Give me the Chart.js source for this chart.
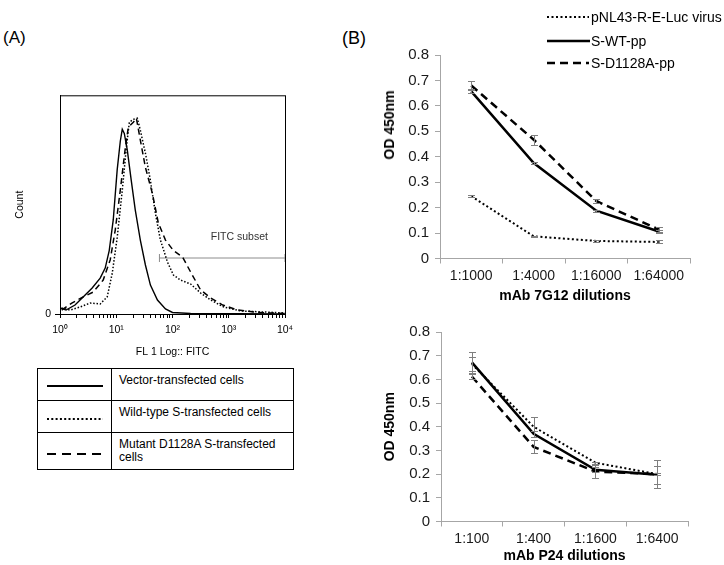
<!DOCTYPE html>
<html>
<head>
<meta charset="utf-8">
<script src="https://cdn.jsdelivr.net/npm/chart.js@4.4.1/dist/chart.umd.min.js"></script>
<style>
  body { margin: 0; background: #fff; }
  #fig { position: relative; width: 724px; height: 565px; overflow: hidden;
         font-family: "Liberation Sans", Arial, sans-serif; color: #000; }
  #fig canvas, .t, .ln, svg { position: absolute; }
  .t { white-space: nowrap; line-height: 1; }
  .ln { background: #000; }
</style>
</head>
<body>
<div id="fig">
  <div class="t" style="left:3px;top:29px;font-size:17px">(A)</div>
  <div class="t" style="left:342px;top:29px;font-size:18px">(B)</div>

  <canvas id="hist" width="300" height="280" style="left:0;top:85px"></canvas>
  <canvas id="od1" width="330" height="265" style="left:370px;top:40px"></canvas>
  <canvas id="od2" width="328" height="248" style="left:370px;top:317px"></canvas>
  <div class="t" style="left:389px;top:125px;font-weight:bold;font-size:14px;transform:translate(-50%,-50%) rotate(-90deg)">OD 450nm</div>

  <!-- legend table of panel A -->
  <div style="position:absolute;left:37px;top:368px;width:257px;height:102px;border:1px solid #000;box-sizing:border-box"></div>
  <div class="ln" style="left:37px;top:400px;width:257px;height:1px"></div>
  <div class="ln" style="left:37px;top:432px;width:257px;height:1px"></div>
  <div class="ln" style="left:111px;top:368px;width:1px;height:102px"></div>
  <svg style="left:47px;top:384px" width="56" height="4"><line x1="0" y1="2" x2="56" y2="2" stroke="#000" stroke-width="2"/></svg>
  <svg style="left:47px;top:417px" width="56" height="4"><line x1="0" y1="2" x2="56" y2="2" stroke="#000" stroke-width="2" stroke-dasharray="2 2.3"/></svg>
  <svg style="left:47px;top:452px" width="56" height="4"><line x1="0" y1="2" x2="56" y2="2" stroke="#000" stroke-width="2" stroke-dasharray="9 6"/></svg>
  <div class="t" style="left:119px;top:374px;font-size:12px">Vector-transfected cells</div>
  <div class="t" style="left:119px;top:406px;font-size:12px">Wild-type S-transfected cells</div>
  <div class="t" style="left:119px;top:438px;font-size:12px;line-height:13px">Mutant D1128A S-transfected<br>cells</div>

  <!-- legend of panel B -->
  <svg style="left:547px;top:15px" width="42" height="4"><line x1="0" y1="2" x2="42" y2="2" stroke="#000" stroke-width="2" stroke-dasharray="2 2.5"/></svg>
  <svg style="left:547px;top:39px" width="43" height="4"><line x1="0" y1="2" x2="43" y2="2" stroke="#000" stroke-width="2.5"/></svg>
  <svg style="left:547px;top:61px" width="42" height="4"><line x1="0" y1="2" x2="42" y2="2" stroke="#000" stroke-width="2.5" stroke-dasharray="8 5"/></svg>
  <div class="t" style="left:591px;top:10px;font-size:14px">pNL43-R-E-Luc virus</div>
  <div class="t" style="left:591px;top:34px;font-size:14px">S-WT-pp</div>
  <div class="t" style="left:591px;top:56px;font-size:14px">S-D1128A-pp</div>
</div>

<script>
// ---- panel A: flow cytometry histogram (FL1 log fluorescence vs count) ----
const vectorX = [1.03, 1.28, 1.85, 2.58, 3.73, 5.18, 6.36, 7.5, 8.84, 10.4, 11.8, 12.8, 13.9, 15.7, 18.5, 21.8, 26.8, 33, 40.5, 54, 75, 100, 210, 10000];
const vectorY = [2.7, 1.8, 4.1, 7.8, 11.9, 16.4, 21, 29, 43, 66, 79, 84.5, 82.6, 75, 61, 47.5, 33.8, 22.4, 13.2, 6.4, 2.3, 0.7, 0.2, 0];

const wildX = [1.07, 1.51, 2.28, 3.44, 5.18, 6.9, 8.5, 10.4, 12.8, 15.1, 17.1, 20.1, 23.7, 26.8, 33, 40.5, 49.7, 61, 81.5, 104, 139, 210, 316, 477, 815, 1640, 6360, 10000];
const wildY = [2.7, 1.8, 3.2, 5.0, 4.6, 7.8, 18.7, 35, 56.6, 76, 87.7, 89, 89.5, 84, 73.5, 61, 46, 33.8, 23.7, 17.8, 15.5, 13.7, 9.6, 6.4, 3.2, 1.4, 0.7, 0.5];

const mutantX = [1.07, 1.62, 2.58, 3.88, 5.86, 7.8, 9.6, 11.8, 14.5, 16.4, 20.1, 22.8, 26.8, 33, 44, 56, 75, 104, 151, 210, 316, 477, 782, 1450, 3300, 10000];
const mutantY = [1.8, 5.0, 7.8, 10, 15.5, 24.7, 38.4, 56.6, 76, 85.4, 87.7, 89.5, 79.5, 67, 55, 41.6, 33.8, 29, 26, 19.2, 11, 7.3, 4.1, 1.8, 0.7, 0.2];

const gateX = [58.6, 10000];
const gateY = [25.6, 25.6];

// ---- panel B: ELISA OD 450nm ----
const dil7G12 = ['1:1000', '1:4000', '1:16000', '1:64000'];
const virus7G12 = [0.245, 0.087, 0.069, 0.065];
const virus7G12Err = [0.003, 0.003, 0.003, 0.006];
const wt7G12 = [0.657, 0.375, 0.188, 0.106];
const wt7G12Err = [0.008, 0.004, 0.004, 0.006];
const mut7G12 = [0.68, 0.467, 0.226, 0.114];
const mut7G12Err = [0.016, 0.02, 0.006, 0.008];

const dilP24 = ['1:100', '1:400', '1:1600', '1:6400'];
const virusP24 = [0.665, 0.40, 0.248, 0.20];
const virusP24Err = [0.03, 0.043, 0.005, 0.06];
const wtP24 = [0.672, 0.37, 0.218, 0.197];
const wtP24Err = [0.045, 0.012, 0.01, 0.038];
const mutP24 = [0.612, 0.315, 0.211, 0.20];
const mutP24Err = [0.012, 0.027, 0.028, 0.005];

const odTicks = [0, 0.1, 0.2, 0.3, 0.4, 0.5, 0.6, 0.7, 0.8];

Chart.defaults.font.family = '"Liberation Sans", Arial, sans-serif';
Chart.defaults.color = '#000';
Chart.defaults.animation = false;

const pts = (xs, ys) => xs.map((x, i) => ({ x: x, y: ys[i] }));
const sup = ['\u2070', '\u00B9', '\u00B2', '\u00B3', '\u2074'];

const boxPlugin = {
  id: 'box',
  afterDraw(chart) {
    const a = chart.chartArea, ctx = chart.ctx;
    ctx.save();
    ctx.strokeStyle = '#000';
    ctx.lineWidth = 1;
    ctx.strokeRect(a.left + 0.5, a.top + 0.5, a.right - a.left, a.bottom - a.top);
    // gate label, placed in data units
    ctx.fillStyle = '#333';
    ctx.font = '10.5px "Liberation Sans", Arial, sans-serif';
    ctx.textBaseline = 'middle';
    ctx.fillText('FITC subset', chart.scales.x.getPixelForValue(478), chart.scales.y.getPixelForValue(35));
    ctx.restore();
  }
};

const histLine = (data, dash, w) => ({
  data: data, borderColor: '#000', borderWidth: w, borderDash: dash,
  pointRadius: 0, tension: 0, fill: false
});

new Chart(document.getElementById('hist'), {
  type: 'line',
  data: {
    datasets: [
      histLine(pts(vectorX, vectorY), [], 1.4),
      histLine(pts(wildX, wildY), [1.5, 1.8], 1.5),
      histLine(pts(mutantX, mutantY), [6, 4], 1.5),
      {
        data: pts(gateX, gateY), borderColor: '#8c8c8c', borderWidth: 1,
        pointStyle: 'line', pointRotation: 90, pointRadius: 4,
        pointBorderColor: '#8c8c8c', pointBorderWidth: 1, clip: false
      }
    ]
  },
  options: {
    responsive: false,
    events: [],
    layout: { padding: { top: 10, right: 15, left: 0, bottom: 0 } },
    plugins: { legend: { display: false }, tooltip: { enabled: false } },
    scales: {
      x: {
        type: 'logarithmic', min: 1, max: 10000,
        afterBuildTicks(scale) {
          const t = [];
          for (let e = 0; e < 4; e++) for (let m = 1; m < 10; m++) t.push({ value: m * Math.pow(10, e) });
          t.push({ value: 10000 });
          scale.ticks = t;
        },
        afterFit(scale) { scale.height = 51; },
        ticks: {
          autoSkip: false, maxRotation: 0, padding: 6,
          font: { size: 10.5 },
          callback(v) {
            const e = Math.round(Math.log10(v));
            return Math.abs(Math.pow(10, e) - v) < 1e-6 ? '10' + sup[e] : '';
          }
        },
        grid: { drawOnChartArea: false, tickLength: 4, color: '#000' },
        border: { color: '#000' },
        title: { display: true, text: 'FL 1 Log:: FITC', font: { size: 10.5 }, padding: { top: 0, bottom: 6.7 } }
      },
      y: {
        min: 0, max: 100,
        afterBuildTicks(scale) { scale.ticks = [{ value: 0 }]; },
        afterFit(scale) { scale.width = 60; },
        ticks: { padding: 4, font: { size: 10.5 } },
        grid: { drawOnChartArea: false, tickLength: 5, color: '#000' },
        border: { color: '#000' },
        title: { display: true, text: 'Count', font: { size: 10.5 }, padding: { top: 13.7, bottom: 0 } }
      }
    }
  },
  plugins: [boxPlugin]
});

// error bars drawn through the chart's own scales
const errorBars = {
  id: 'errorBars',
  afterDatasetsDraw(chart) {
    const ctx = chart.ctx, y = chart.scales.y;
    ctx.save();
    ctx.strokeStyle = '#7f7f7f';
    ctx.lineWidth = 1;
    chart.data.datasets.forEach((ds, di) => {
      const meta = chart.getDatasetMeta(di);
      ds.errors.forEach((e, i) => {
        const px = Math.round(meta.data[i].x) + 0.5;
        const t = Math.round(y.getPixelForValue(ds.data[i] + e)) + 0.5;
        const b = Math.round(y.getPixelForValue(ds.data[i] - e)) + 0.5;
        ctx.beginPath();
        ctx.moveTo(px, t); ctx.lineTo(px, b);
        ctx.moveTo(px - 3.5, t); ctx.lineTo(px + 3.5, t);
        ctx.moveTo(px - 3.5, b); ctx.lineTo(px + 3.5, b);
        ctx.stroke();
      });
    });
    ctx.restore();
  }
};

function odChart(id, labels, virus, virusErr, wt, wtErr, mut, mutErr, cfg) {
  const line = (data, err, dash, w) => ({
    data: data, errors: err, borderColor: '#000', borderWidth: w, borderDash: dash,
    pointRadius: 0, tension: 0, fill: false
  });
  return new Chart(document.getElementById(id), {
    type: 'line',
    data: {
      labels: labels,
      datasets: [
        line(virus, virusErr, [2, 2.5], 2),
        line(wt, wtErr, [], 2.5),
        line(mut, mutErr, [8, 5], 2.5)
      ]
    },
    options: {
      responsive: false,
      events: [],
      layout: { padding: { top: 12, right: 10, left: 0, bottom: 0 } },
      plugins: { legend: { display: false }, tooltip: { enabled: false } },
      scales: {
        x: {
          offset: true,
          afterFit(scale) { scale.height = cfg.xHeight; },
          ticks: { padding: 4, maxRotation: 0, font: { size: 14 }, color: '#1a1a1a' },
          grid: { offset: true, drawOnChartArea: false, tickLength: 5, color: '#a6a6a6' },
          border: { color: '#a6a6a6' },
          title: { display: true, text: cfg.xTitle, font: { size: 14, weight: 'bold' }, padding: { top: 0, bottom: cfg.xTitlePad } }
        },
        y: {
          min: 0, max: 0.8,
          afterBuildTicks(scale) { scale.ticks = odTicks.map(v => ({ value: v })); },
          afterFit(scale) { scale.width = cfg.yWidth; },
          ticks: { padding: 6, font: { size: 15 }, color: '#1a1a1a', callback: v => (v === 0 ? '0' : v.toFixed(1)) },
          grid: { drawOnChartArea: false, tickLength: 5, color: '#a6a6a6' },
          border: { color: '#a6a6a6' },
          title: { display: cfg.yTitle, text: 'OD 450nm', font: { size: 14, weight: 'bold' }, padding: { top: 11.6, bottom: 0 } }
        }
      }
    },
    plugins: [errorBars]
  });
}

odChart('od1', dil7G12, virus7G12, virus7G12Err, wt7G12, wt7G12Err, mut7G12, mut7G12Err,
  { xHeight: 46.5, yWidth: 70, xTitle: 'mAb 7G12 dilutions', xTitlePad: 0.6, yTitle: false });
odChart('od2', dilP24, virusP24, virusP24Err, wtP24, wtP24Err, mutP24, mutP24Err,
  { xHeight: 43.5, yWidth: 71, xTitle: 'mAb P24 dilutions', xTitlePad: 0, yTitle: true });
</script>
</body>
</html>
